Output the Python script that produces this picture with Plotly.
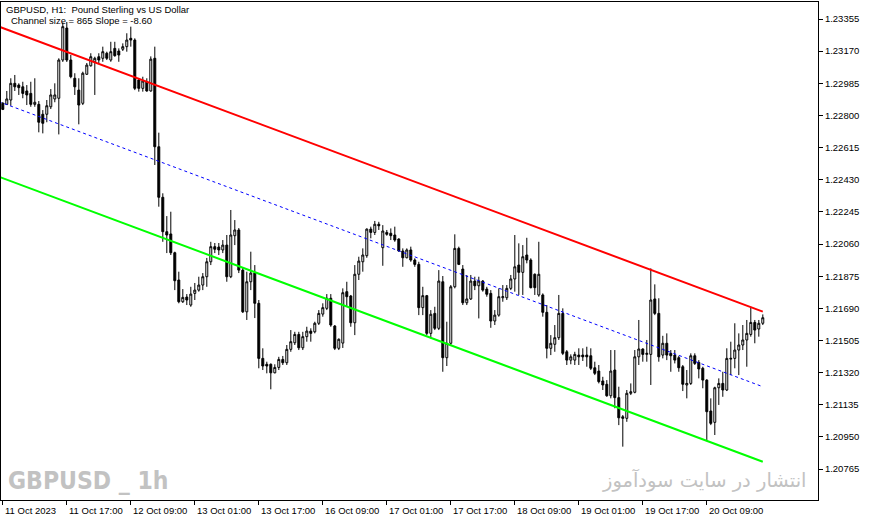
import plotly.graph_objects as go

# --- GBPUSD H1 bars, 11 Oct 2023 01:00 .. 20 Oct 23:00 (x = bar number) ---
BARS = list(range(191))

OPEN = [
    1.22870, 1.22864, 1.22889, 1.22985, 1.22975, 1.22965, 1.22941, 1.22927, 1.22864, 1.22864,
    1.22807, 1.22807, 1.22850, 1.22895, 1.22899, 1.23119, 1.23303, 1.23119, 1.23014, 1.22946,
    1.22870, 1.23037, 1.23086, 1.23109, 1.23138, 1.23129, 1.23158, 1.23119, 1.23186, 1.23171,
    1.23181, 1.23196, 1.23244, 1.23234, 1.23004, 1.22956, 1.22994, 1.22941, 1.23129, 1.22620,
    1.22329, 1.22131, 1.22118, 1.22010, 1.21853, 1.21728, 1.21755, 1.21709, 1.21776, 1.21795,
    1.21824, 1.21872, 1.21958, 1.22045, 1.22043, 1.22026, 1.22054, 1.21872, 1.22108, 1.22141,
    1.21910, 1.21670, 1.21843, 1.21893, 1.21719, 1.21402, 1.21368, 1.21368, 1.21319, 1.21350,
    1.21396, 1.21377, 1.21454, 1.21492, 1.21540, 1.21463, 1.21527, 1.21559, 1.21555, 1.21604,
    1.21657, 1.21690, 1.21748, 1.21588, 1.21460, 1.21490, 1.21786, 1.21761, 1.21607, 1.21886,
    1.21958, 1.21993, 1.22146, 1.22127, 1.22174, 1.22039, 1.22127, 1.22122, 1.22112, 1.22089,
    1.22020, 1.21981, 1.22026, 1.21968, 1.21943, 1.21694, 1.21763, 1.21546, 1.21661, 1.21575,
    1.21843, 1.21406, 1.21489, 1.21814, 1.22035, 1.21916, 1.21722, 1.21744, 1.21847, 1.21820,
    1.21847, 1.21801, 1.21776, 1.21617, 1.21651, 1.21751, 1.21751, 1.21805, 1.21859, 1.21939,
    1.21897, 1.21997, 1.21968, 1.21886, 1.21767, 1.21767, 1.21667, 1.21460, 1.21483, 1.21521,
    1.21661, 1.21440, 1.21392, 1.21392, 1.21421, 1.21421, 1.21421, 1.21417, 1.21348, 1.21329,
    1.21272, 1.21253, 1.21187, 1.21335, 1.21176, 1.21066, 1.21057, 1.21201, 1.21207, 1.21411,
    1.21456, 1.21425, 1.21425, 1.21744, 1.21661, 1.21421, 1.21489, 1.21431, 1.21421, 1.21406,
    1.21354, 1.21249, 1.21258, 1.21417, 1.21379, 1.21345, 1.21277, 1.21099, 1.21034, 1.21233,
    1.21258, 1.21220, 1.21398, 1.21402, 1.21450, 1.21479, 1.21508, 1.21540, 1.21609, 1.21571,
    1.21604,
]
HIGH = [
    1.22877, 1.22941, 1.23014, 1.23033, 1.22985, 1.22994, 1.22975, 1.22994, 1.23014, 1.22883,
    1.22831, 1.22889, 1.22952, 1.22985, 1.23129, 1.23336, 1.23338, 1.23148, 1.23043, 1.23014,
    1.23052, 1.23102, 1.23158, 1.23138, 1.23158, 1.23196, 1.23167, 1.23224, 1.23224, 1.23186,
    1.23215, 1.23273, 1.23311, 1.23244, 1.23014, 1.23023, 1.23014, 1.23140, 1.23196, 1.22701,
    1.22352, 1.22221, 1.22246, 1.22016, 1.21901, 1.21801, 1.21772, 1.21814, 1.21836, 1.21872,
    1.21893, 1.21980, 1.22073, 1.22066, 1.22066, 1.22083, 1.22112, 1.22256, 1.22198, 1.22152,
    1.21922, 1.21901, 1.22016, 1.21939, 1.21738, 1.21460, 1.21383, 1.21373, 1.21368, 1.21411,
    1.21416, 1.21479, 1.21565, 1.21555, 1.21555, 1.21555, 1.21584, 1.21575, 1.21613, 1.21680,
    1.21719, 1.21772, 1.21772, 1.21594, 1.21517, 1.21805, 1.21843, 1.21767, 1.21939, 1.21987,
    1.22035, 1.22150, 1.22160, 1.22193, 1.22188, 1.22169, 1.22141, 1.22150, 1.22160, 1.22093,
    1.22035, 1.22035, 1.22045, 1.21978, 1.21958, 1.21814, 1.21767, 1.21680, 1.21699, 1.21910,
    1.21876, 1.21613, 1.21824, 1.22116, 1.22045, 1.21939, 1.21882, 1.21882, 1.21872, 1.21872,
    1.21853, 1.21814, 1.21795, 1.21680, 1.21805, 1.21824, 1.21824, 1.21882, 1.22112, 1.22064,
    1.22054, 1.22096, 1.21978, 1.21891, 1.22073, 1.21776, 1.21709, 1.21536, 1.21594, 1.21767,
    1.21690, 1.21450, 1.21425, 1.21440, 1.21460, 1.21460, 1.21469, 1.21460, 1.21383, 1.21364,
    1.21296, 1.21277, 1.21450, 1.21450, 1.21239, 1.21076, 1.21220, 1.21258, 1.21450, 1.21623,
    1.21460, 1.21508, 1.21920, 1.21828, 1.21748, 1.21532, 1.21546, 1.21450, 1.21450, 1.21417,
    1.21364, 1.21335, 1.21431, 1.21431, 1.21392, 1.21354, 1.21282, 1.21172, 1.21239, 1.21287,
    1.21325, 1.21460, 1.21498, 1.21604, 1.21546, 1.21594, 1.21623, 1.21699, 1.21623, 1.21623,
    1.21655,
]
LOW = [
    1.22831, 1.22860, 1.22856, 1.22941, 1.22918, 1.22899, 1.22860, 1.22850, 1.22850, 1.22703,
    1.22697, 1.22761, 1.22837, 1.22876, 1.22691, 1.23108, 1.23108, 1.23014, 1.22918, 1.22749,
    1.22860, 1.23033, 1.23081, 1.22918, 1.23100, 1.23109, 1.23119, 1.23109, 1.23138, 1.23109,
    1.23171, 1.23167, 1.23196, 1.22946, 1.22937, 1.22937, 1.22937, 1.22937, 1.22515, 1.22275,
    1.22073, 1.22008, 1.21997, 1.21795, 1.21719, 1.21721, 1.21709, 1.21699, 1.21738, 1.21786,
    1.21795, 1.21814, 1.21939, 1.22008, 1.21997, 1.22008, 1.21843, 1.21864, 1.22054, 1.21893,
    1.21663, 1.21623, 1.21795, 1.21634, 1.21345, 1.21335, 1.21316, 1.21224, 1.21316, 1.21335,
    1.21364, 1.21364, 1.21440, 1.21479, 1.21450, 1.21450, 1.21498, 1.21498, 1.21546, 1.21594,
    1.21642, 1.21680, 1.21584, 1.21450, 1.21450, 1.21462, 1.21699, 1.21584, 1.21536, 1.21853,
    1.21901, 1.21981, 1.22093, 1.22112, 1.22141, 1.21935, 1.22108, 1.22083, 1.22073, 1.22016,
    1.21929, 1.21978, 1.21958, 1.21929, 1.21651, 1.21651, 1.21536, 1.21517, 1.21565, 1.21565,
    1.21325, 1.21358, 1.21479, 1.21805, 1.21939, 1.21709, 1.21709, 1.21738, 1.21795, 1.21632,
    1.21786, 1.21757, 1.21578, 1.21594, 1.21642, 1.21728, 1.21738, 1.21795, 1.21786, 1.21767,
    1.21767, 1.21949, 1.21805, 1.21767, 1.21757, 1.21642, 1.21402, 1.21421, 1.21440, 1.21508,
    1.21421, 1.21364, 1.21368, 1.21364, 1.21364, 1.21387, 1.21354, 1.21335, 1.21306, 1.21258,
    1.21220, 1.21181, 1.21172, 1.21115, 1.21018, 1.20894, 1.21037, 1.21191, 1.21201, 1.21364,
    1.21383, 1.21383, 1.21249, 1.21651, 1.21383, 1.21402, 1.21392, 1.21325, 1.21373, 1.21325,
    1.21214, 1.21172, 1.21249, 1.21364, 1.21287, 1.21230, 1.20926, 1.21018, 1.20961, 1.21134,
    1.21181, 1.21214, 1.21306, 1.21345, 1.21306, 1.21450, 1.21354, 1.21527, 1.21489, 1.21527,
    1.21594,
]
CLOSE = [
    1.22835, 1.22895, 1.22985, 1.22965, 1.22960, 1.22927, 1.22918, 1.22864, 1.22876, 1.22761,
    1.22755, 1.22856, 1.22918, 1.22918, 1.23119, 1.23311, 1.23119, 1.23023, 1.22965, 1.22860,
    1.23043, 1.23090, 1.23138, 1.23129, 1.23119, 1.23167, 1.23129, 1.23167, 1.23144, 1.23148,
    1.23196, 1.23234, 1.23234, 1.22956, 1.22956, 1.22998, 1.22941, 1.23124, 1.22620, 1.22329,
    1.22131, 1.22112, 1.22010, 1.21849, 1.21728, 1.21753, 1.21738, 1.21772, 1.21795, 1.21824,
    1.21872, 1.21958, 1.22045, 1.22030, 1.22026, 1.22054, 1.21872, 1.22112, 1.22141, 1.21910,
    1.21670, 1.21843, 1.21893, 1.21719, 1.21402, 1.21358, 1.21358, 1.21319, 1.21350, 1.21396,
    1.21377, 1.21454, 1.21498, 1.21540, 1.21463, 1.21527, 1.21559, 1.21546, 1.21604, 1.21661,
    1.21694, 1.21748, 1.21594, 1.21460, 1.21512, 1.21780, 1.21757, 1.21607, 1.21886, 1.21962,
    1.21997, 1.22146, 1.22127, 1.22174, 1.22165, 1.22135, 1.22116, 1.22108, 1.22083, 1.22020,
    1.21981, 1.22026, 1.21968, 1.21943, 1.21694, 1.21763, 1.21546, 1.21656, 1.21575, 1.21847,
    1.21406, 1.21489, 1.21814, 1.22035, 1.21943, 1.21722, 1.21744, 1.21847, 1.21820, 1.21847,
    1.21795, 1.21771, 1.21617, 1.21651, 1.21757, 1.21757, 1.21805, 1.21859, 1.21929, 1.21897,
    1.21987, 1.21968, 1.21809, 1.21809, 1.21886, 1.21667, 1.21460, 1.21489, 1.21521, 1.21661,
    1.21431, 1.21392, 1.21411, 1.21425, 1.21411, 1.21411, 1.21411, 1.21345, 1.21316, 1.21268,
    1.21249, 1.21187, 1.21329, 1.21176, 1.21060, 1.21057, 1.21201, 1.21210, 1.21411, 1.21456,
    1.21425, 1.21431, 1.21738, 1.21661, 1.21411, 1.21489, 1.21421, 1.21417, 1.21392, 1.21348,
    1.21253, 1.21258, 1.21417, 1.21373, 1.21341, 1.21277, 1.21095, 1.21028, 1.21233, 1.21258,
    1.21220, 1.21402, 1.21402, 1.21450, 1.21479, 1.21508, 1.21546, 1.21609, 1.21565, 1.21604,
    1.21636,
]

# linear regression channel (values read at bar -1 and at the last bar)
CHANNEL_BARS = [-1, 190]
CHANNEL_UPPER = [1.23312, 1.21671]
CHANNEL_MID = [1.22880, 1.21239]
CHANNEL_LOWER = [1.22448, 1.20807]

TIME_TICK_BARS = [0, 16, 32, 48, 64, 80, 96, 112, 128, 144, 160, 176]
TIME_TICK_TEXT = [
    "11 Oct 2023", "11 Oct 17:00", "12 Oct 09:00", "13 Oct 01:00",
    "13 Oct 17:00", "16 Oct 09:00", "17 Oct 01:00", "17 Oct 17:00",
    "18 Oct 09:00", "19 Oct 01:00", "19 Oct 17:00", "20 Oct 09:00",
]
PRICE_TICKS = [
    1.20765, 1.20950, 1.21135, 1.21320, 1.21505, 1.21690, 1.21875, 1.22060,
    1.22245, 1.22430, 1.22615, 1.22800, 1.22985, 1.23170, 1.23355,
]

SMALL_FONT = dict(family="Liberation Sans, Arial, sans-serif", size=9.5, color="black")
WATERMARK_GREY = "#c2c2c2"

fig = go.Figure()

# candles: bull = white body, bear = black body
fig.add_trace(
    go.Candlestick(
        x=BARS, open=OPEN, high=HIGH, low=LOW, close=CLOSE,
        increasing=dict(fillcolor="white", line=dict(color="black", width=1)),
        decreasing=dict(fillcolor="black", line=dict(color="black", width=1)),
        whiskerwidth=0,
        showlegend=False,
        hoverinfo="skip",
    )
)

# channel lines on top of the candles
fig.add_trace(go.Scatter(x=CHANNEL_BARS, y=CHANNEL_UPPER, mode="lines",
                         line=dict(color="#ff0000", width=2), showlegend=False, hoverinfo="skip"))
fig.add_trace(go.Scatter(x=CHANNEL_BARS, y=CHANNEL_MID, mode="lines",
                         line=dict(color="#0000ff", width=1, dash="3px,3px"), showlegend=False, hoverinfo="skip"))
fig.add_trace(go.Scatter(x=CHANNEL_BARS, y=CHANNEL_LOWER, mode="lines",
                         line=dict(color="#00ff00", width=2), showlegend=False, hoverinfo="skip"))

# time labels sit to the right of their tick, like MT5
for b, t in zip(TIME_TICK_BARS, TIME_TICK_TEXT):
    fig.add_annotation(x=b, xref="x", y=0, yref="paper", text=t, showarrow=False,
                       xanchor="left", yanchor="top", xshift=0, yshift=-3, font=SMALL_FONT)

fig.add_annotation(x=0, xref="paper", y=1, yref="paper", xanchor="left", yanchor="top",
                   xshift=3, yshift=0, showarrow=False, font=SMALL_FONT,
                   text="GBPUSD, H1:\u00a0 Pound Sterling vs US Dollar")
fig.add_annotation(x=0, xref="paper", y=1, yref="paper", xanchor="left", yanchor="top",
                   xshift=8, yshift=-11, showarrow=False, font=SMALL_FONT,
                   text="Channel size = 865 Slope = -8.60")

# watermarks
fig.add_annotation(x=0, xref="paper", y=0, yref="paper", xanchor="left", yanchor="bottom",
                   xshift=5, yshift=3, showarrow=False, text="<b>GBPUSD _ 1h</b>",
                   font=dict(family="Liberation Sans Narrow, DejaVu Sans Condensed, Liberation Sans",
                             size=24.5, color=WATERMARK_GREY))
fig.add_annotation(x=0.979, xref="paper", y=0, yref="paper", xanchor="right", yanchor="bottom",
                   xshift=7, yshift=6, showarrow=False, text="انتشار در سایت سودآموز",
                   font=dict(family="DejaVu Sans, Noto Sans", size=19.5, color=WATERMARK_GREY))

fig.update_layout(
    width=871, height=522,
    margin=dict(l=1, r=53, t=2, b=22),
    paper_bgcolor="white", plot_bgcolor="white",
    showlegend=False,
)
fig.update_xaxes(
    range=[-0.45, 203.8], rangeslider=dict(visible=False),
    showgrid=False, zeroline=False,
    showline=True, mirror=True, linecolor="black", linewidth=1,
    tickvals=TIME_TICK_BARS, ticks="outside", ticklen=4, tickcolor="black",
    showticklabels=False,
)
fig.update_yaxes(
    range=[1.20587, 1.23453], side="right",
    showgrid=False, zeroline=False,
    showline=True, mirror=True, linecolor="black", linewidth=1,
    tickvals=PRICE_TICKS, tickformat=".5f", ticks="outside", ticklen=4, tickcolor="black",
    tickfont=SMALL_FONT,
)

# page has a default 8px body margin, drop it so the chart sits at 0,0
fig.write_html("out.html", config={"displayModeBar": False},
               post_script="document.body.style.margin='0px';")
